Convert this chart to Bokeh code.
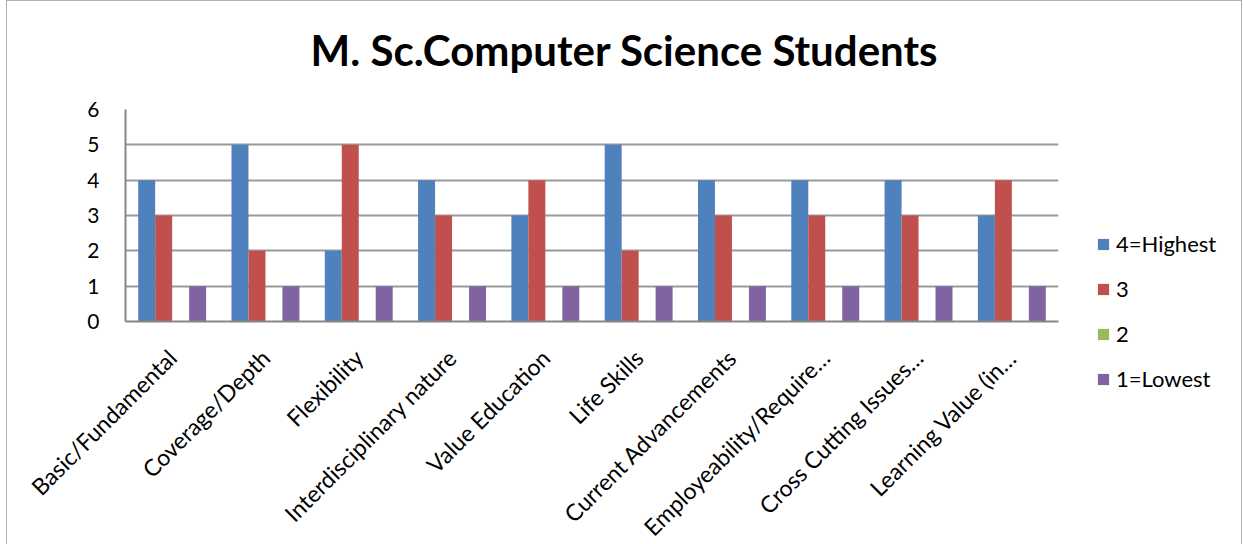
import math
from bokeh.plotting import figure
from bokeh.models import ColumnDataSource, Legend, LegendItem, FactorRange, Range1d
from bokeh.layouts import row, column
from bokeh.core.properties import value
from bokeh.transform import dodge
from bokeh.embed import file_html
from bokeh.resources import INLINE

title_text = "M. Sc.Computer Science Students"
categories = ["Basic/Fundamental", "Coverage/Depth", "Flexibility", "Interdisciplinary nature",
              "Value Education", "Life Skills", "Current Advancements", "Employeability/Require…",
              "Cross Cutting Issues…", "Learning Value (in…"]
highest = [4, 5, 2, 4, 3, 5, 4, 4, 4, 3]
three = [3, 2, 5, 3, 4, 2, 3, 3, 3, 4]
two = [0, 0, 0, 0, 0, 0, 0, 0, 0, 0]
lowest = [1, 1, 1, 1, 1, 1, 1, 1, 1, 1]
series_names = ["4=Highest", "3", "2", "1=Lowest"]
colors = ["#4F81BD", "#C0504D", "#9BBB59", "#8064A2"]

source = ColumnDataSource(dict(cat=categories, s4=highest, s3=three, s2=two, s1=lowest))

FONT = "Lato"
NAN = float("nan")

# ---- title strip ----
tf = figure(frame_width=1234, frame_height=80, output_backend="svg", toolbar_location=None,
            x_range=Range1d(0, 1), y_range=Range1d(0, 1.25),
            x_axis_location=None, y_axis_location=None)
tf.min_border = 0
tf.outline_line_color = None
tf.grid.grid_line_color = None
tf.frame_align = False
tf.text(x=[0.5], y=[0.5], text=[title_text], text_align="center", text_baseline="middle",
        text_font=value(FONT), text_font_size="42px", text_font_style="bold", text_color="black")

# ---- main chart ----
p = figure(x_range=FactorRange(*categories, range_padding=0), y_range=Range1d(0, 6),
           frame_width=933, frame_height=212, output_backend="svg", toolbar_location=None)
p.frame_align = False
p.min_border_left = 118
p.min_border_right = 13
p.min_border_top = 28
p.min_border_bottom = 219

bw = 0.182
offsets = [-1.5 * bw, -0.5 * bw, 0.5 * bw, 1.5 * bw]
fields = ["s4", "s3", "s2", "s1"]
for f, off, c in zip(fields, offsets, colors):
    p.vbar(x=dodge("cat", off, range=p.x_range), top=f, width=bw, source=source,
           fill_color=c, line_color=None)

p.outline_line_color = None
p.xgrid.grid_line_color = None
p.ygrid.grid_line_color = "#9a9a9a"
p.ygrid.grid_line_width = 2

for ax in (p.xaxis, p.yaxis):
    ax.axis_line_color = "#868686"
    ax.axis_line_width = 2
    ax.major_tick_line_color = None
    ax.minor_tick_line_color = None
    ax.major_label_text_font = FONT
    ax.major_label_text_color = "black"

p.yaxis.ticker = [0, 1, 2, 3, 4, 5, 6]
p.yaxis.major_label_text_font_size = "21px"
p.yaxis.major_label_standoff = 20
p.xaxis.major_label_text_font_size = "23px"
p.xaxis.major_label_orientation = math.pi / 4
p.xaxis.major_label_standoff = 26

# ---- legend panel ----
lg = figure(frame_width=170, frame_height=459, output_backend="svg", toolbar_location=None,
            x_range=Range1d(0, 1), y_range=Range1d(0, 1),
            x_axis_location=None, y_axis_location=None)
lg.frame_align = False
lg.min_border = 0
lg.outline_line_color = None
lg.grid.grid_line_color = None
items = []
for n, c in zip(series_names, colors):
    r = lg.vbar(x=[NAN], top=[NAN], width=0.1, fill_color=c, line_color=None)
    items.append(LegendItem(label=n, renderers=[r]))

legend = Legend(items=items, location=(25, 148))
legend.border_line_color = None
legend.background_fill_alpha = 0
legend.label_text_font = FONT
legend.label_text_font_size = "22px"
legend.label_text_color = "black"
legend.glyph_width = 14
legend.glyph_height = 14
legend.label_standoff = 6
legend.spacing = 18
legend.padding = 0
legend.margin = 0
lg.add_layout(legend, "center")

layout = column(tf, row(p, lg))
layout.styles = {"border": "1px solid #b0b0b0"}
layout.margin = (0, 0, 0, 6)

open("out.html", "w").write(file_html(layout, INLINE))
